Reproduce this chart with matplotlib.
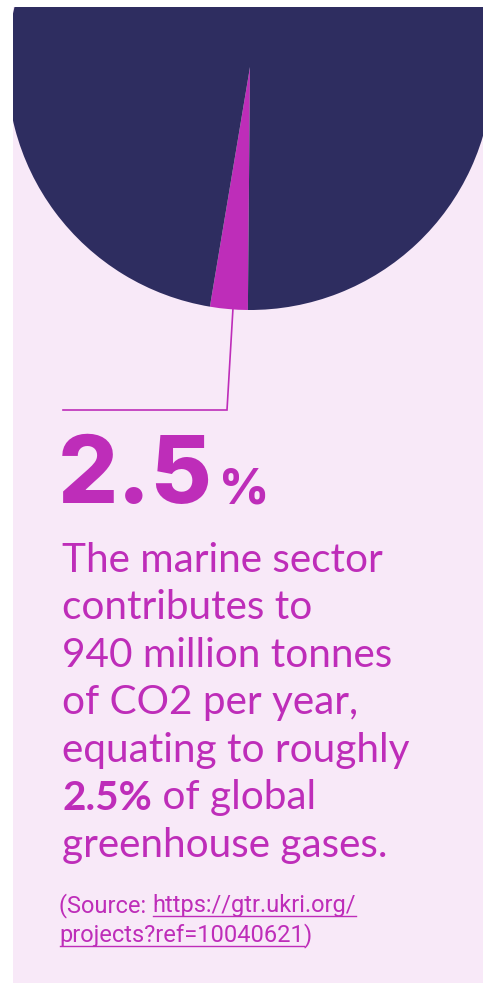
import matplotlib.pyplot as plt

# data
labels = ['Marine sector', 'Everything else']
shares = [2.5, 97.5]
headline = '2.5'
body_lines = ['The marine sector', 'contributes to', '940 million tonnes',
              'of CO2 per year,', 'equating to roughly', None, 'greenhouse gases.']
bold_bit = '2.5%'
after_bold = ' of global'
source_pre = '(Source: '
source_url = ['https://gtr.ukri.org/', 'projects?ref=10040621']

NAVY = '#2e2d60'
MAGENTA = '#be2db9'
PINK = '#f8e9f8'

W, H = 483, 983
PX, PY = 13, 7  # panel top-left corner in image pixels
fig = plt.figure(figsize=(W / 100, H / 100), dpi=100, facecolor='white')
# the axes is the pink panel, so the pie gets clipped by it
ax = fig.add_axes([PX / W, 0, (W - PX) / W, (H - PY) / H])
ax.set_facecolor(PINK)

def Y(y):
    # image pixel row -> data y
    return H - y

wedges, _ = ax.pie(shares, colors=[MAGENTA, NAVY], startangle=260.5, counterclock=True,
                   center=(250, Y(67)), radius=243, frame=True,
                   wedgeprops=dict(linewidth=0))
for w in wedges:
    w.set_clip_on(True)  # pie turns clipping off by default
ax.set_xlim(PX, W)
ax.set_ylim(0, H - PY)
ax.set_xticks([])
ax.set_yticks([])
for s in ax.spines.values():
    s.set_visible(False)

# leader line
ax.plot([233, 227, 63], [Y(308), Y(410), Y(410)], color=MAGENTA, lw=1.2,
        solid_joinstyle='miter', zorder=3)

fig.canvas.draw()
r = fig.canvas.get_renderer()
inv = ax.transData.inverted()

def right_edge(t):
    bb = t.get_window_extent(renderer=r)
    return inv.transform((bb.x1, bb.y1))[0]

big = ax.text(58, Y(503), headline, fontsize=68, fontweight='heavy', family='Inter',
              color=MAGENTA, va='baseline', ha='left')
x_pct = right_edge(big) + 6
ax.text(x_pct, Y(503), '%', fontsize=35, fontweight='heavy', family='Inter',
        color=MAGENTA, va='baseline', ha='left')

base0, step = 571.5, 47.6
bfs = 29.2
for i, line in enumerate(body_lines):
    yb = Y(base0 + i * step)
    if line is None:
        b = ax.text(62, yb, bold_bit, fontsize=bfs, fontweight='bold', family='Lato',
                    color=MAGENTA, va='baseline')
        ax.text(right_edge(b), yb, after_bold, fontsize=bfs, family='Lato',
                color=MAGENTA, va='baseline')
    else:
        ax.text(62, yb, line, fontsize=bfs, family='Lato', color=MAGENTA, va='baseline')

# source
fs = 17
t0 = ax.text(59, Y(912), source_pre, fontsize=fs, family='Roboto', color=MAGENTA,
             va='baseline')
xs = right_edge(t0)
u1 = ax.text(xs, Y(912), source_url[0], fontsize=fs, family='Roboto', color=MAGENTA,
             va='baseline')
ax.plot([xs + 1, right_edge(u1)], [Y(915.5), Y(915.5)], color=MAGENTA, lw=1.0)
u2 = ax.text(59, Y(942), source_url[1], fontsize=fs, family='Roboto', color=MAGENTA,
             va='baseline')
x2 = right_edge(u2)
ax.plot([60, x2], [Y(945.5), Y(945.5)], color=MAGENTA, lw=1.0)
ax.text(x2, Y(942), ')', fontsize=fs, family='Roboto', color=MAGENTA, va='baseline')

fig.savefig('out.png', dpi=100, facecolor='white')
